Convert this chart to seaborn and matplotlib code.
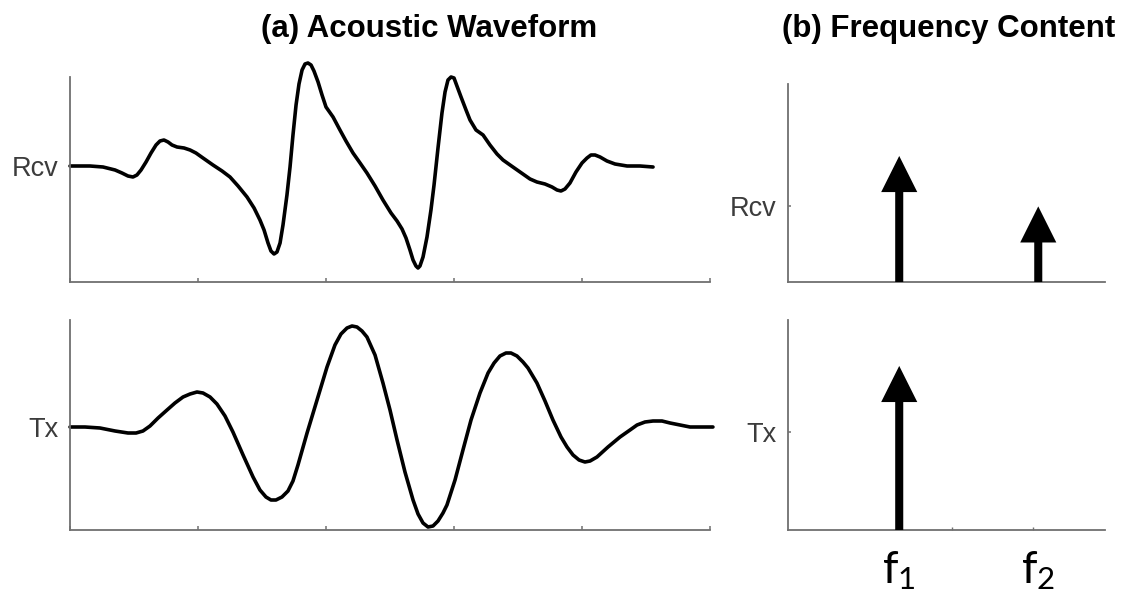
import matplotlib
matplotlib.use("Agg")
import matplotlib.pyplot as plt
import seaborn as sns

sns.set_theme(style="ticks")
plt.rcParams["font.family"] = ["Liberation Sans", "DejaVu Sans"]
plt.rcParams["mathtext.fontset"] = "custom"
plt.rcParams["mathtext.rm"] = "Lato"
plt.rcParams["mathtext.it"] = "Lato:italic"

# ---- received waveform (time, amplitude) ----
rcv_t = [0.000, 0.156, 0.258, 0.352, 0.406, 0.453, 0.492, 0.523, 0.555, 0.594,
         0.633, 0.672, 0.703, 0.734, 0.766, 0.797, 0.836, 0.891, 0.938, 0.984,
         1.039, 1.117, 1.188, 1.250, 1.313, 1.383, 1.438, 1.484, 1.516, 1.547,
         1.570, 1.594, 1.617, 1.641, 1.664, 1.695, 1.719, 1.742, 1.766, 1.789,
         1.813, 1.836, 1.859, 1.883, 1.906, 1.938, 1.969, 2.000, 2.055, 2.109,
         2.156, 2.211, 2.266, 2.320, 2.383, 2.445, 2.508, 2.555, 2.594, 2.625,
         2.656, 2.680, 2.703, 2.719, 2.734, 2.758, 2.789, 2.820, 2.844, 2.875,
         2.906, 2.930, 2.953, 2.977, 3.000, 3.023, 3.055, 3.094, 3.125, 3.172,
         3.227, 3.281, 3.336, 3.383, 3.438, 3.516, 3.594, 3.648, 3.711, 3.766,
         3.805, 3.836, 3.867, 3.906, 3.953, 4.000, 4.039, 4.070, 4.102, 4.141,
         4.195, 4.258, 4.352, 4.453, 4.555]
rcv_amp = [0.00, 0.00, -0.01, -0.04, -0.07, -0.10, -0.11, -0.09, -0.04, 0.04,
           0.13, 0.21, 0.25, 0.26, 0.24, 0.21, 0.19, 0.18, 0.16, 0.13,
           0.08, 0.01, -0.05, -0.11, -0.20, -0.31, -0.42, -0.54, -0.64, -0.77,
           -0.85, -0.88, -0.86, -0.77, -0.59, -0.29, -0.01, 0.31, 0.61, 0.82,
           0.96, 1.02, 1.03, 1.01, 0.95, 0.84, 0.71, 0.59, 0.49, 0.36,
           0.25, 0.13, 0.03, -0.07, -0.20, -0.34, -0.47, -0.55, -0.63, -0.72,
           -0.84, -0.94, -1.00, -1.02, -1.00, -0.91, -0.71, -0.44, -0.19, 0.18,
           0.53, 0.74, 0.86, 0.89, 0.88, 0.80, 0.69, 0.56, 0.46, 0.36,
           0.31, 0.21, 0.12, 0.06, 0.01, -0.06, -0.13, -0.16, -0.18, -0.21,
           -0.24, -0.25, -0.23, -0.17, -0.06, 0.03, 0.08, 0.11, 0.11, 0.09,
           0.05, 0.02, 0.00, 0.00, -0.01]

# ---- transmitted waveform (time, amplitude) ----
tx_t = [0.000, 0.117, 0.234, 0.352, 0.453, 0.516, 0.570, 0.625, 0.688, 0.758,
        0.820, 0.883, 0.938, 0.992, 1.039, 1.094, 1.148, 1.211, 1.273, 1.352,
        1.430, 1.484, 1.531, 1.570, 1.609, 1.656, 1.703, 1.742, 1.781, 1.852,
        1.930, 2.008, 2.070, 2.117, 2.164, 2.203, 2.242, 2.281, 2.320, 2.383,
        2.445, 2.500, 2.555, 2.617, 2.680, 2.719, 2.758, 2.797, 2.836, 2.875,
        2.914, 2.945, 3.008, 3.070, 3.133, 3.203, 3.266, 3.313, 3.359, 3.406,
        3.445, 3.492, 3.539, 3.578, 3.648, 3.711, 3.773, 3.836, 3.883, 3.930,
        3.977, 4.023, 4.063, 4.117, 4.203, 4.297, 4.375, 4.430, 4.492, 4.555,
        4.625, 4.688, 4.766, 4.844, 5.023]
tx_amp = [0.00, 0.00, -0.01, -0.04, -0.06, -0.06, -0.04, 0.01, 0.09, 0.17,
          0.24, 0.30, 0.33, 0.35, 0.34, 0.30, 0.23, 0.11, -0.05, -0.28,
          -0.50, -0.63, -0.70, -0.73, -0.73, -0.70, -0.64, -0.54, -0.38, -0.06,
          0.27, 0.60, 0.82, 0.93, 0.99, 1.01, 1.00, 0.96, 0.90, 0.72,
          0.44, 0.17, -0.13, -0.45, -0.73, -0.87, -0.96, -1.00, -0.99, -0.94,
          -0.86, -0.78, -0.53, -0.23, 0.07, 0.34, 0.54, 0.64, 0.71, 0.74,
          0.74, 0.71, 0.65, 0.59, 0.44, 0.26, 0.07, -0.10, -0.20, -0.28,
          -0.33, -0.35, -0.34, -0.30, -0.20, -0.10, -0.03, 0.02, 0.05, 0.06,
          0.06, 0.04, 0.02, 0.00, 0.00]

time_ticks = [0, 1, 2, 3, 4, 5]

# ---- spectral content ----
freqs = [1.0, 2.25]
freq_labels = [r"$\mathrm{f}_{1}$", r"$\mathrm{f}_{2}$"]
rcv_mag = [1.0, 0.6]
tx_mag = [1.0, 0.0]

row_labels = ["Rcv", "Tx"]
titles = ["(a) Acoustic Waveform", "(b) Frequency Content"]

W, H = 1122, 598
fig = plt.figure(figsize=(W / 100, H / 100), dpi=100)


def box(x0, y0, x1, y1):
    return [x0 / W, 1 - y1 / H, (x1 - x0) / W, (y1 - y0) / H]


axes_color = "#707070"
label_color = "#3c3c3c"


def style_axis(ax):
    for side in ("top", "right"):
        ax.spines[side].set_visible(False)
    for side in ("left", "bottom"):
        ax.spines[side].set_color(axes_color)
        ax.spines[side].set_linewidth(1.3)
    ax.tick_params(axis="both", direction="in", color=axes_color, width=1.1,
                   length=3, labelsize=19.5, labelcolor=label_color, pad=8)
    ax.set_xlabel("")
    ax.set_ylabel("")


wave_axes = [fig.add_axes(box(70, 77, 710, 282)), fig.add_axes(box(70, 320, 710, 530))]
wave_data = [(rcv_t, rcv_amp), (tx_t, tx_amp)]
wave_ylims = [(-1.16, 0.89), (-1.03, 1.07)]

for ax, (t, a), ylim, lab in zip(wave_axes, wave_data, wave_ylims, row_labels):
    sns.lineplot(x=t, y=a, ax=ax, color="black", linewidth=2.6, sort=False,
                 estimator=None)
    for ln in ax.lines:
        ln.set_clip_on(False)
        ln.set_solid_joinstyle("round")
        ln.set_solid_capstyle("round")
    ax.set_xlim(time_ticks[0], time_ticks[-1])
    ax.set_ylim(*ylim)
    ax.set_xticks(time_ticks)
    ax.set_xticklabels([])
    ax.set_yticks([0])
    ax.set_yticklabels([lab])
    style_axis(ax)

spec_axes = [fig.add_axes(box(788, 84, 1105, 282)), fig.add_axes(box(788, 320, 1105, 530))]
spec_data = [rcv_mag, tx_mag]
spec_ytop = [1.571, 1.28]

for i, (ax, mags, ytop, lab) in enumerate(zip(spec_axes, spec_data, spec_ytop, row_labels)):
    ax.set_xlim(0, 2.85)
    ax.set_ylim(0, ytop)
    for f, m in zip(freqs, mags):
        if m <= 0:
            continue
        ax.annotate("", xy=(f, m), xytext=(f, 0),
                    arrowprops=dict(facecolor="black", edgecolor="black", lw=0,
                                    width=5.8, headwidth=26, headlength=26, shrink=0))
    ax.set_yticks([0.6])
    ax.set_yticklabels([lab])
    style_axis(ax)
    ax.tick_params(axis="y", length=2)
    if i == 1:
        ax.set_xticks(freqs)
        ax.set_xticklabels(freq_labels)
        ax.tick_params(axis="x", length=0, labelsize=32, labelcolor="black", pad=14)
        ax.set_xticks([1.475, 2.2], minor=True)
        ax.tick_params(axis="x", which="minor", direction="in", length=2,
                       color=axes_color, width=1.0)
    else:
        ax.set_xticks([])

fig.text(429 / W, 1 - 29 / H, titles[0], ha="center", va="center",
         fontsize=22.5, fontweight="bold", color="black")
fig.text(949 / W, 1 - 29 / H, titles[1], ha="center", va="center",
         fontsize=22.5, fontweight="bold", color="black")

fig.savefig("out.png", dpi=100, facecolor="white")
